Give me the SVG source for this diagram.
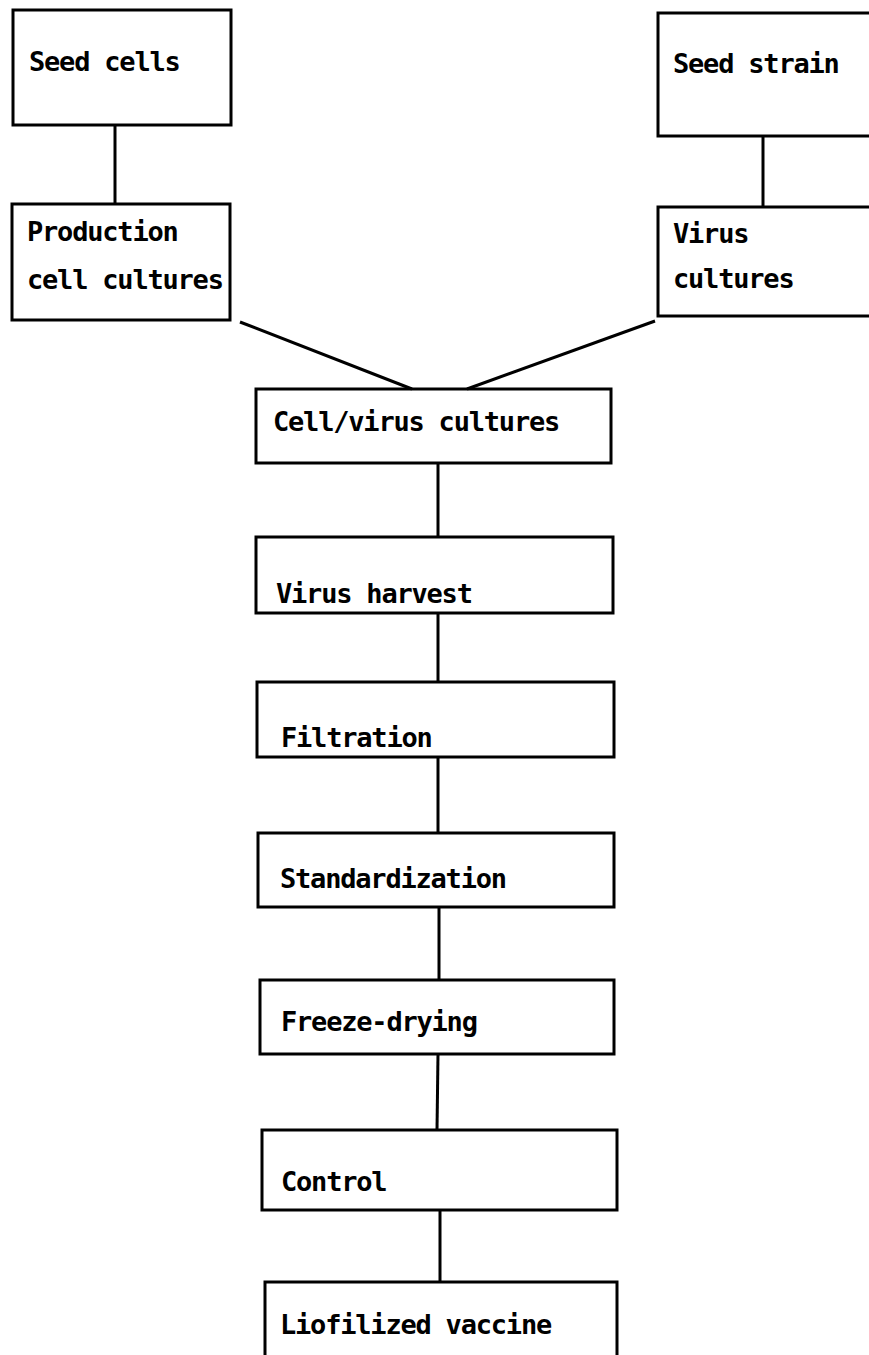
<svg xmlns="http://www.w3.org/2000/svg" width="869" height="1355" viewBox="0 0 869 1355">
  <style>
    .box { fill: none; stroke: #000; stroke-width: 3; }
    .link { fill: none; stroke: #000; stroke-width: 3; }
    .label { font-family: "DejaVu Sans Mono", "Liberation Mono", monospace; font-weight: bold; font-size: 27px; letter-spacing: -1.2px; fill: #000; }
  </style>
  <rect width="869" height="1355" fill="#fff"/>

  <!-- connectors -->
  <g id="connectors">
    <line class="link" x1="115" y1="125" x2="115" y2="204"/>
    <line class="link" x1="763" y1="136" x2="763" y2="207"/>
    <line class="link" x1="240" y1="322" x2="412" y2="389"/>
    <line class="link" x1="655" y1="321" x2="467" y2="389"/>
    <line class="link" x1="438" y1="463" x2="438" y2="537"/>
    <line class="link" x1="438" y1="613" x2="438" y2="682"/>
    <line class="link" x1="438" y1="757" x2="438" y2="833"/>
    <line class="link" x1="439" y1="907" x2="439" y2="980"/>
    <line class="link" x1="438" y1="1054" x2="437" y2="1130"/>
    <line class="link" x1="440" y1="1210" x2="440" y2="1282"/>
  </g>

  <!-- nodes -->
  <g id="seed-cells">
    <rect class="box" x="13" y="10" width="218" height="115"/>
    <text class="label" x="29" y="71">Seed cells</text>
  </g>
  <g id="production-cell-cultures">
    <rect class="box" x="12" y="204" width="218" height="116"/>
    <text class="label" x="27" y="241">Production</text>
    <text class="label" x="27" y="289">cell cultures</text>
  </g>
  <g id="seed-strain">
    <rect class="box" x="658" y="13" width="230" height="123"/>
    <text class="label" x="673" y="73">Seed strain</text>
  </g>
  <g id="virus-cultures">
    <rect class="box" x="658" y="207" width="230" height="109"/>
    <text class="label" x="673" y="243">Virus</text>
    <text class="label" x="673" y="288">cultures</text>
  </g>
  <g id="cell-virus-cultures">
    <rect class="box" x="256" y="389" width="355" height="74"/>
    <text class="label" x="273" y="431">Cell/virus cultures</text>
  </g>
  <g id="virus-harvest">
    <rect class="box" x="256" y="537" width="357" height="76"/>
    <text class="label" x="276" y="603">Virus harvest</text>
  </g>
  <g id="filtration">
    <rect class="box" x="257" y="682" width="357" height="75"/>
    <text class="label" x="281" y="747">Filtration</text>
  </g>
  <g id="standardization">
    <rect class="box" x="258" y="833" width="356" height="74"/>
    <text class="label" x="280" y="888">Standardization</text>
  </g>
  <g id="freeze-drying">
    <rect class="box" x="260" y="980" width="354" height="74"/>
    <text class="label" x="281" y="1031">Freeze-drying</text>
  </g>
  <g id="control">
    <rect class="box" x="262" y="1130" width="355" height="80"/>
    <text class="label" x="281" y="1191">Control</text>
  </g>
  <g id="liofilized-vaccine">
    <path class="box" d="M265,1360 V1282 H617 V1360"/>
    <text class="label" x="280" y="1334">Liofilized vaccine</text>
  </g>
</svg>
